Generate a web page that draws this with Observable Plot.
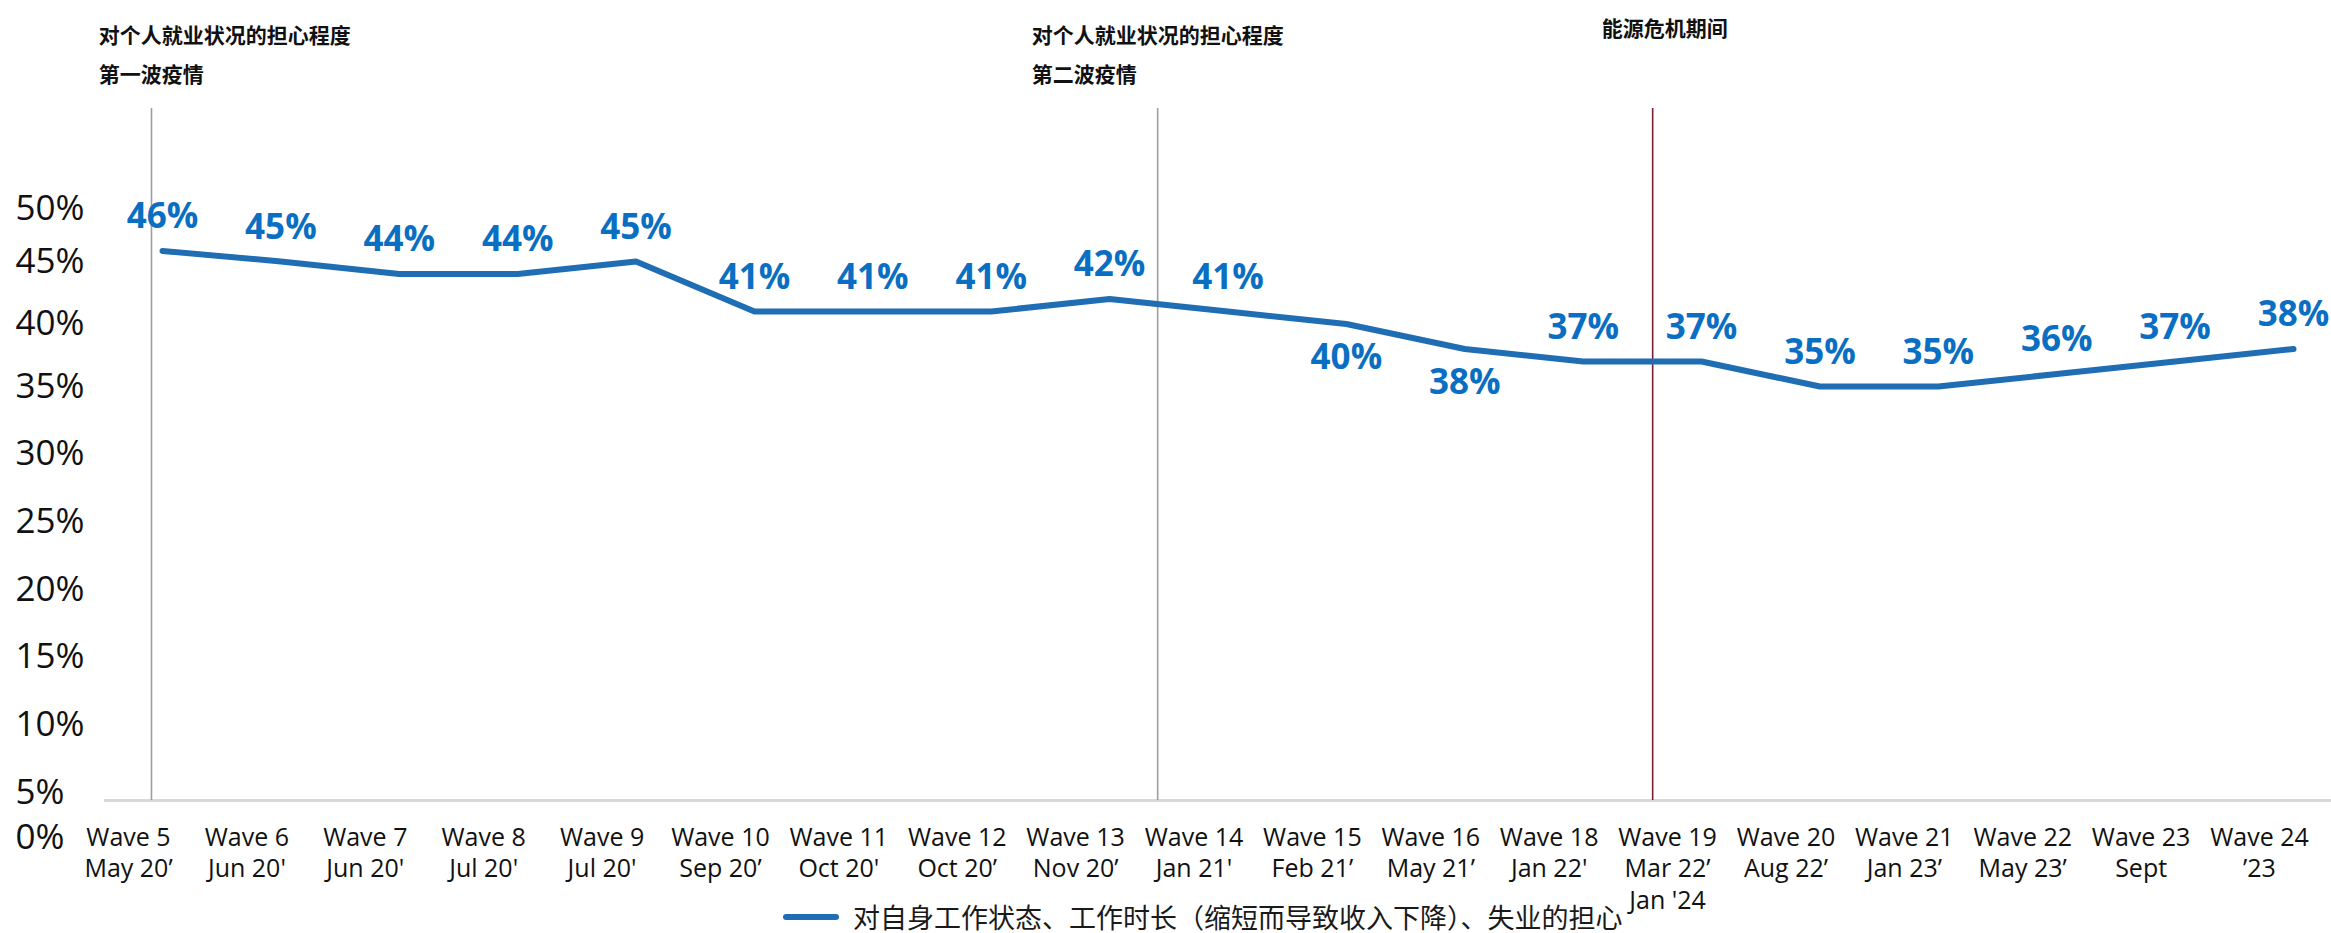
<!DOCTYPE html>
<html>
<head>
<meta charset="utf-8">
<script src="https://cdn.jsdelivr.net/npm/d3@7"></script>
<script src="https://cdn.jsdelivr.net/npm/@observablehq/plot@0.6"></script>
<style>
  html, body { margin: 0; padding: 0; background: #fff; width: 2331px; height: 933px; overflow: hidden; }
  #legend { height: 32px; display: flex; align-items: center; padding-left: 783px;
            font-family: "Noto Sans CJK SC", sans-serif; font-size: 27px; line-height: 32px; color: #1a1a1a; white-space: nowrap; }
  #legend .sw { display: inline-block; width: 56px; height: 6px; border-radius: 3px; background: #1F6EB4; margin-right: 14px; }
</style>
</head>
<body>
<div id="chart"></div>
<div id="legend"><span class="sw"></span><span id="legend-text"></span></div>
<script>
// ---- data ----
const waves = ["Wave 5", "Wave 6", "Wave 7", "Wave 8", "Wave 9", "Wave 10", "Wave 11", "Wave 12", "Wave 13",
  "Wave 14", "Wave 15", "Wave 16", "Wave 18", "Wave 19", "Wave 20", "Wave 21", "Wave 22", "Wave 23", "Wave 24"];
const dates = ["May 20’", "Jun 20'", "Jun 20'", "Jul 20'", "Jul 20'", "Sep 20’", "Oct 20'", "Oct 20’", "Nov 20’",
  "Jan 21'", "Feb 21’", "May 21’", "Jan 22'", "Mar 22’", "Aug 22’", "Jan 23’", "May 23’", "Sept", "’23"];
const extraDates = ["", "", "", "", "", "", "", "", "", "", "", "", "", "Jan '24", "", "", "", "", ""];
const values = [46, 45, 44, 44, 45, 41, 41, 41, 42, 41, 40, 38, 37, 37, 35, 35, 36, 37, 38];
const labelsBelow = ["Wave 15", "Wave 16"];
const yTicks = [0, 5, 10, 15, 20, 25, 30, 35, 40, 45, 50];
const seriesName = "对自身工作状态、工作时长（缩短而导致收入下降）、失业的担心";

// event markers (x in wave-index units)
const eventX = [-0.093, 8.406, 12.587];
const eventKind = ["pandemic", "pandemic", "energy"];
const annoX = [-0.538, 7.342];
const annoLine1 = ["对个人就业状况的担心程度", "对个人就业状况的担心程度"];
const annoLine2 = ["第一波疫情", "第二波疫情"];
const energyX = [12.156];
const energyText = ["能源危机期间"];

// ---- build tables ----
const data = waves.map((w, i) => ({i, wave: w, value: values[i], below: labelsBelow.includes(w)}));
const events = eventX.map((x, k) => ({x, kind: eventKind[k]}));
const annos = annoX.map((x, k) => ({x, l1: annoLine1[k], l2: annoLine2[k]}));
const energy = energyX.map((x, k) => ({x, t: energyText[k]}));

document.getElementById("legend-text").textContent = seriesName;

const W = 2331, H = 901, AXIS_Y = 800;
const blue = "#1F6EB4", labelBlue = "#0A6FC2";
const cjk = "'Noto Sans CJK SC', 'Noto Sans', sans-serif";

const chart = Plot.plot({
  width: W,
  height: H,
  marginLeft: 162,
  marginRight: 38,
  marginTop: 108,
  marginBottom: H - AXIS_Y,
  style: {fontFamily: "'Open Sans', 'Noto Sans', sans-serif", background: "#fff", overflow: "visible", color: "#111"},
  x: {type: "linear", domain: [0, waves.length - 1], label: null},
  y: {type: "linear", domain: [0, 5, 35, 45, 50], range: [837, 792, 386, 261, 208], label: null},
  marks: [
    Plot.frame({anchor: "bottom", stroke: "#d9d9d9", strokeWidth: 3, insetLeft: -57, insetRight: -38}),
    Plot.ruleX(events, {x: "x", stroke: d => d.kind === "energy" ? "#7B1F2E" : "#9E9E9E", strokeWidth: 1.6}),
    Plot.axisY({
      ticks: yTicks, tickFormat: d => d + "%", tickSize: 0, tickPadding: 0, label: null,
      textAnchor: "start", dx: -147, fontSize: 35, fill: "#111"
    }),
    Plot.axisX({
      ticks: d3.range(waves.length), label: null,
      tickFormat: i => [waves[i], dates[i], extraDates[i]].filter(s => s).join("\n"),
      tickSize: 0, tickPadding: 23, fontSize: 25, lineHeight: 1.26, dx: -34, fill: "#111"
    }),
    Plot.line(data, {x: "i", y: "value", stroke: blue, strokeWidth: 6, strokeLinejoin: "round", strokeLinecap: "round"}),
    Plot.text(data.filter(d => !d.below), {
      x: "i", y: "value", text: d => d.value + "%", dy: -34,
      fontSize: 35, fontWeight: "bold", fill: labelBlue
    }),
    Plot.text(data.filter(d => d.below), {
      x: "i", y: "value", text: d => d.value + "%", dy: 34,
      fontSize: 35, fontWeight: "bold", fill: labelBlue
    }),
    Plot.text(annos, {
      x: "x", text: "l1", frameAnchor: "top", dy: -80, textAnchor: "start",
      fontSize: 21, fontWeight: "bold", fontFamily: cjk, fill: "#111"
    }),
    Plot.text(annos, {
      x: "x", text: "l2", frameAnchor: "top", dy: -41, textAnchor: "start",
      fontSize: 21, fontWeight: "bold", fontFamily: cjk, fill: "#111"
    }),
    Plot.text(energy, {
      x: "x", text: "t", frameAnchor: "top", dy: -87, textAnchor: "start",
      fontSize: 21, fontWeight: "bold", fontFamily: cjk, fill: "#111"
    })
  ]
});
document.getElementById("chart").appendChild(chart);
</script>
</body>
</html>
